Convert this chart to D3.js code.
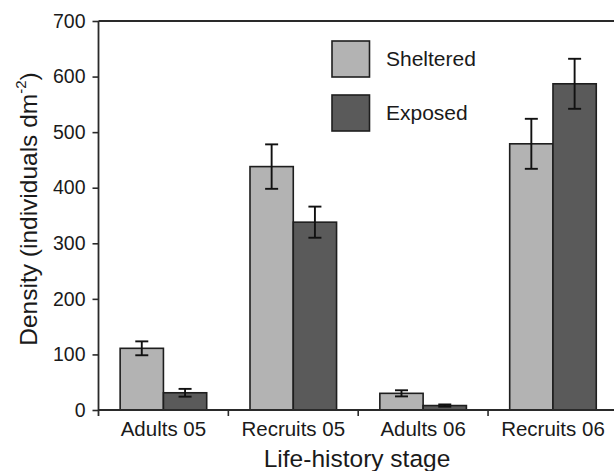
<!DOCTYPE html>
<html>
<head>
<meta charset="utf-8">
<script src="https://cdn.jsdelivr.net/npm/d3@7"></script>
<style>
  html, body { margin: 0; padding: 0; background: #fff; }
  svg { display: block; }
  text { font-family: "Liberation Sans", Arial, Helvetica, sans-serif; fill: #1a1a1a; }
</style>
</head>
<body>
<svg id="chart" width="614" height="471"></svg>
<script>
// ---- data ----
const categories = ["Adults 05", "Recruits 05", "Adults 06", "Recruits 06"];
const seriesNames = ["Sheltered", "Exposed"];
const shelteredValues = [111, 438, 30, 479];
const shelteredErrors = [12.5, 40, 5.5, 45];
const exposedValues = [31, 338, 8, 587];
const exposedErrors = [7, 28, 2, 45];
const yTicks = [0, 100, 200, 300, 400, 500, 600, 700];
const colors = { "Sheltered": "#b3b3b3", "Exposed": "#5a5a5a" };

const rows = [];
categories.forEach((c, i) => {
  rows.push({ cat: c, series: "Sheltered", value: shelteredValues[i], err: shelteredErrors[i] });
  rows.push({ cat: c, series: "Exposed", value: exposedValues[i], err: exposedErrors[i] });
});

// ---- layout ----
const svg = d3.select("#chart");
const mLeft = 98.5, mRight = 617.9, mTop = 21, mBottom = 410;
const axisColor = "#2a2a2a";

const x0 = d3.scaleBand().domain(categories).range([mLeft, mRight]).padding(0);
const x1 = d3.scaleBand().domain(seriesNames).range([0, x0.bandwidth()]).paddingInner(0).paddingOuter(0.5);
const y = d3.scaleLinear().domain([0, 700]).range([mBottom, mTop]);

// top frame line
svg.append("line")
  .attr("x1", mLeft).attr("x2", 614).attr("y1", y(700)).attr("y2", y(700))
  .attr("stroke", axisColor).attr("stroke-width", 1.8);

// bars
svg.append("g").selectAll("rect").data(rows).join("rect")
  .attr("x", d => x0(d.cat) + x1(d.series))
  .attr("y", d => y(d.value))
  .attr("width", x1.bandwidth())
  .attr("height", d => y(0) - y(d.value))
  .attr("fill", d => colors[d.series])
  .attr("stroke", "#1e1e1e").attr("stroke-width", 1.6);

// error bars
const eb = svg.append("g").attr("stroke", "#111").attr("stroke-width", 1.9);
rows.forEach(d => {
  const cx = x0(d.cat) + x1(d.series) + x1.bandwidth() / 2;
  const y1 = y(d.value + d.err), y2 = y(d.value - d.err);
  eb.append("line").attr("x1", cx).attr("x2", cx).attr("y1", y1).attr("y2", y2);
  eb.append("line").attr("x1", cx - 6.5).attr("x2", cx + 6.5).attr("y1", y1).attr("y2", y1);
  eb.append("line").attr("x1", cx - 6.5).attr("x2", cx + 6.5).attr("y1", y2).attr("y2", y2);
});

// y axis
const yAxis = svg.append("g").attr("transform", `translate(${mLeft},0)`)
  .call(d3.axisLeft(y).tickValues(yTicks).tickSize(6).tickPadding(7).tickSizeOuter(0));
yAxis.select(".domain").attr("stroke", axisColor).attr("stroke-width", 1.8)
  .attr("d", `M0,${mTop}V${mBottom + 6}`);
yAxis.selectAll(".tick line").attr("stroke", axisColor).attr("stroke-width", 1.6);
yAxis.selectAll(".tick text").attr("font-size", 19.5).attr("fill", "#1a1a1a")
  .style("font-family", '"Liberation Sans", Arial, Helvetica, sans-serif');

// x axis: labels at band centres, ticks at band boundaries
const xAxis = svg.append("g").attr("transform", `translate(0,${mBottom})`)
  .call(d3.axisBottom(x0).tickSize(0).tickPadding(11));
xAxis.select(".domain").attr("stroke", axisColor).attr("stroke-width", 1.8)
  .attr("d", `M${mLeft},0H${mRight}`);
xAxis.selectAll(".tick text").attr("font-size", 20.5).attr("fill", "#1a1a1a")
  .style("font-family", '"Liberation Sans", Arial, Helvetica, sans-serif');
xAxis.selectAll(".boundary").data(categories.slice(1)).join("line")
  .attr("class", "boundary")
  .attr("x1", d => x0(d)).attr("x2", d => x0(d))
  .attr("y1", 0).attr("y2", 6)
  .attr("stroke", axisColor).attr("stroke-width", 1.6);

// axis titles
svg.append("text")
  .attr("x", 357).attr("y", 467)
  .attr("text-anchor", "middle").attr("font-size", 24.5)
  .text("Life-history stage");

const yt = svg.append("text")
  .attr("transform", "translate(37,209) rotate(-90)")
  .attr("text-anchor", "middle").attr("font-size", 24.5);
yt.append("tspan").text("Density (individuals dm");
yt.append("tspan").attr("font-size", 15).attr("dy", -11).text("-2");
yt.append("tspan").attr("dy", 11).text(")");

// legend
const legend = svg.append("g");
seriesNames.forEach((s, i) => {
  const gy = 41 + i * 54;
  legend.append("rect")
    .attr("x", 332).attr("y", gy).attr("width", 37.5).attr("height", 36)
    .attr("fill", colors[s]).attr("stroke", "#1e1e1e").attr("stroke-width", 1.6);
  legend.append("text")
    .attr("x", 386).attr("y", gy + 24.5).attr("font-size", 21).text(s);
});
</script>
</body>
</html>
